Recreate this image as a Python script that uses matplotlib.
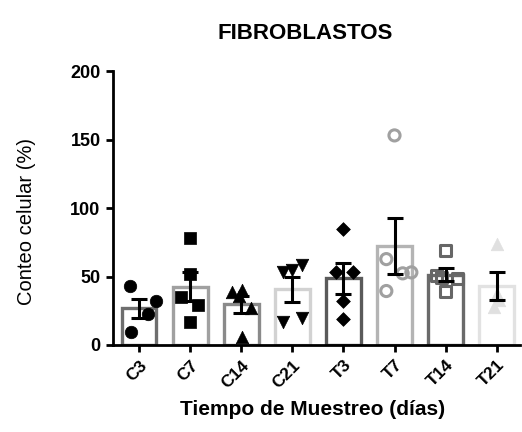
import numpy as np
import matplotlib
matplotlib.use("Agg")
import matplotlib.pyplot as plt

plt.rcParams['font.family'] = ['Liberation Sans', 'DejaVu Sans']

# ---- data ----
categories = ["C3", "C7", "C14", "C21", "T3", "T7", "T14", "T21"]
vals_C3 = [43, 32, 22.6, 9.7]
vals_C7 = [78.3, 52, 35.3, 29.2, 17]
vals_C14 = [39, 40, 36, 27, 6]
vals_C21 = [53.5, 58.4, 55, 17, 19.7]
vals_T3 = [85, 53.5, 53.5, 32.3, 19]
vals_T7 = [153, 62.7, 39.4, 52.3, 53]
vals_T14 = [69.3, 49.4, 48.6, 38.9, 51]
vals_T21 = [74, 37, 33, 28]
values = [vals_C3, vals_C7, vals_C14, vals_C21, vals_T3, vals_T7, vals_T14, vals_T21]

# ---- style: horizontal scatter of each group's points ----
jitter = [
    [-0.18, 0.33, 0.17, -0.16],
    [0, 0, -0.17, 0.16, 0],
    [-0.18, 0.02, -0.05, 0.2, 0.02],
    [-0.18, 0.18, 0, -0.18, 0.18],
    [0, -0.14, 0.18, 0, 0],
    [0, -0.16, -0.16, 0.16, 0.33],
    [0, -0.08, 0.24, 0, -0.18],
    [0, 0, 0.05, -0.05],
]
bar_colors = ["#6e6e6e", "#a0a0a0", "#8a8a8a", "#d2d2d2", "#5a5a5a", "#b4b4b4", "#6a6a6a", "#e2e2e2"]
markers = ["o", "s", "^", "v", "D", "o", "s", "^"]
marker_face = ["black", "black", "black", "black", "black", "none", "none", "#e0e0e0"]
marker_edge = ["black", "black", "black", "black", "black", "#a0a0a0", "#666666", "#e0e0e0"]
marker_sizes = [9, 8, 9, 9, 7, 8, 8, 9]

fig = plt.figure(figsize=(5.22, 4.32), dpi=100)
ax = fig.add_axes([0.2165, 0.2014, 0.78, 0.6342])

x = np.arange(len(categories))
means = [np.mean(v) for v in values]
sems = [np.std(v, ddof=1) / np.sqrt(len(v)) for v in values]

for i, v in enumerate(values):
    ax.bar(i, means[i], width=0.68, facecolor="white", edgecolor=bar_colors[i],
           linewidth=2.4, zorder=1)
    ax.scatter(i + np.array(jitter[i]), v, marker=markers[i], s=marker_sizes[i] ** 2,
               facecolors=marker_face[i], edgecolors=marker_edge[i],
               linewidths=2.2 if marker_face[i] == "none" else 0.5, zorder=3)
    ax.errorbar(i, means[i], yerr=sems[i], color="black", capsize=6, capthick=2.2,
                elinewidth=2.2, zorder=4, fmt="none")

ax.set_xlim(-0.51, 7.46)
ax.set_ylim(0, 200)
ax.set_yticks([0, 50, 100, 150, 200])
ax.set_xticks(x)
ax.set_xticklabels(categories, rotation=45, ha="right", rotation_mode="anchor",
                   fontsize=12.5, fontweight="bold")
for lab in ax.get_yticklabels():
    lab.set_fontsize(13)
    lab.set_fontweight("bold")
ax.tick_params(axis="both", width=2, length=5, direction="out", pad=4)
for s in ["top", "right"]:
    ax.spines[s].set_visible(False)
for s in ["left", "bottom"]:
    ax.spines[s].set_linewidth(2)

ax.set_ylabel("Conteo celular (%)", fontsize=14.5)
ax.yaxis.set_label_coords(-0.19, 0.45)
ax.set_xlabel("Tiempo de Muestreo (días)", fontsize=15, fontweight="bold")
ax.xaxis.set_label_coords(0.49, -0.2)
fig.text(0.585, 0.923, "FIBROBLASTOS", ha="center", va="center", fontsize=16, fontweight="bold")

fig.savefig("out.png", dpi=100)
